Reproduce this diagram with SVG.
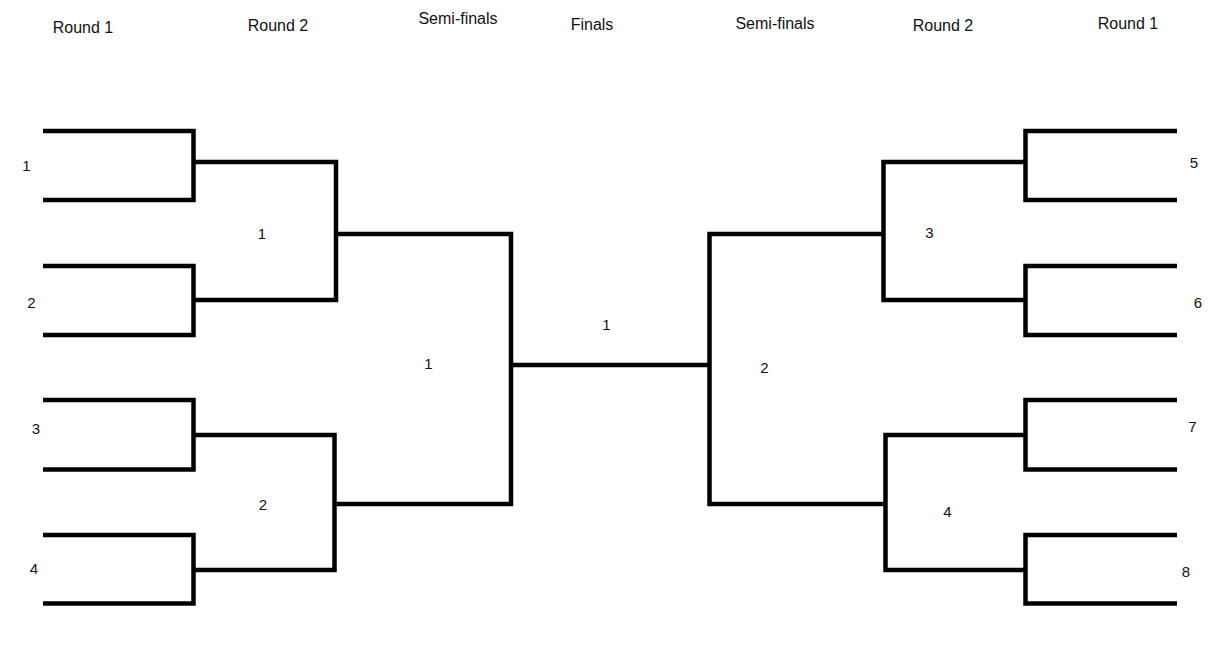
<svg xmlns="http://www.w3.org/2000/svg" width="1217" height="650" viewBox="0 0 1217 650">
  <style>
    .hdr { font-family: "Liberation Sans", Arial, sans-serif; font-size: 16px; fill: #111; text-anchor: middle; }
    .num { font-family: "Liberation Sans", Arial, sans-serif; font-size: 15px; fill: #111; text-anchor: middle; }
    .ln { fill: none; stroke: #000; stroke-width: 4.5; stroke-linejoin: miter; stroke-linecap: butt; }
  </style>
  <rect width="1217" height="650" fill="#fff"/>

  <g id="headers">
    <text class="hdr" x="83" y="33">Round 1</text>
    <text class="hdr" x="278" y="31">Round 2</text>
    <text class="hdr" x="458" y="24">Semi-finals</text>
    <text class="hdr" x="592" y="30">Finals</text>
    <text class="hdr" x="775" y="29">Semi-finals</text>
    <text class="hdr" x="943" y="31">Round 2</text>
    <text class="hdr" x="1128" y="29">Round 1</text>
  </g>

  <g id="connectors">
    <!-- left round 1 -->
    <path class="ln" d="M43,131 H193.5 V200 H43"/>
    <path class="ln" d="M43,266 H193.5 V335 H43"/>
    <path class="ln" d="M43,400 H193.5 V469.5 H43"/>
    <path class="ln" d="M43,535 H193.5 V603.5 H43"/>
    <!-- left round 2 -->
    <path class="ln" d="M193.5,162 H336 V300 H193.5"/>
    <path class="ln" d="M193.5,435 H334.5 V570 H193.5"/>
    <!-- left semi -->
    <path class="ln" d="M336,234 H511 V504 H334.5"/>
    <!-- final -->
    <path class="ln" d="M511,365 H709.5"/>
    <!-- right semi -->
    <path class="ln" d="M883.5,234 H709.5 V504 H885.5"/>
    <!-- right round 2 -->
    <path class="ln" d="M1025.5,162 H883.5 V300 H1025.5"/>
    <path class="ln" d="M1025.5,435 H885.5 V570 H1025.5"/>
    <!-- right round 1 -->
    <path class="ln" d="M1177,131 H1025.5 V200 H1177"/>
    <path class="ln" d="M1177,266 H1025.5 V335 H1177"/>
    <path class="ln" d="M1177,400 H1025.5 V469.5 H1177"/>
    <path class="ln" d="M1177,535 H1025.5 V603.5 H1177"/>
  </g>

  <g id="r1-left-1"><text class="num" x="26.5" y="171">1</text></g>
  <g id="r1-left-2"><text class="num" x="31.5" y="308">2</text></g>
  <g id="r1-left-3"><text class="num" x="36" y="434">3</text></g>
  <g id="r1-left-4"><text class="num" x="34" y="574">4</text></g>
  <g id="r2-left-1"><text class="num" x="262" y="239">1</text></g>
  <g id="r2-left-2"><text class="num" x="263" y="510">2</text></g>
  <g id="semi-left-1"><text class="num" x="428.5" y="369">1</text></g>
  <g id="final-1"><text class="num" x="606.5" y="330">1</text></g>
  <g id="semi-right-2"><text class="num" x="764.5" y="373">2</text></g>
  <g id="r2-right-3"><text class="num" x="929.5" y="238">3</text></g>
  <g id="r2-right-4"><text class="num" x="947.5" y="517">4</text></g>
  <g id="r1-right-5"><text class="num" x="1194" y="168">5</text></g>
  <g id="r1-right-6"><text class="num" x="1198" y="308">6</text></g>
  <g id="r1-right-7"><text class="num" x="1192.5" y="432">7</text></g>
  <g id="r1-right-8"><text class="num" x="1186" y="577">8</text></g>
</svg>
